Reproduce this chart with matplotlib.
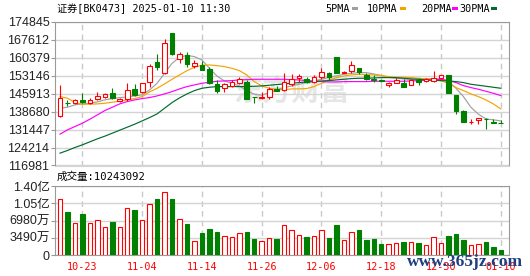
import matplotlib
matplotlib.use('Agg')
import matplotlib.pyplot as plt
from matplotlib.patches import Rectangle

plt.rcParams['font.family'] = ['Liberation Sans', 'Noto Sans CJK SC']
MONO = ['DejaVu Sans Mono', 'Noto Sans CJK SC']

# 交易日
dates = ['10-18', '10-21', '10-22', '10-23', '10-24', '10-25', '10-28', '10-29', '10-30', '10-31',
         '11-01', '11-04', '11-05', '11-06', '11-07', '11-08', '11-11', '11-12', '11-13', '11-14',
         '11-15', '11-18', '11-19', '11-20', '11-21', '11-22', '11-25', '11-26', '11-27', '11-28',
         '11-29', '12-02', '12-03', '12-04', '12-05', '12-06', '12-09', '12-10', '12-11', '12-12',
         '12-13', '12-16', '12-17', '12-18', '12-19', '12-20', '12-23', '12-24', '12-25', '12-26',
         '12-27', '12-30', '12-31', '01-02', '01-03', '01-06', '01-07', '01-08', '01-09', '01-10']

opens = [136952, 142300, 142040, 143513, 142040, 143781, 144718, 146191, 142978, 143647,
         147798, 146726, 150744, 158778, 154091, 170159, 159715, 161590, 156903, 157438,
         155698, 149806, 148066, 149137, 150074, 150744, 144700, 144183, 144450, 147798,
         147396, 149672, 152350, 151949, 150610, 152752, 154091, 160786, 154091, 155162,
         156100, 153421, 151681, 151413, 149405, 150342, 150074, 149271, 151413, 151011,
         151145, 152082, 153421, 145387, 139094, 134600, 135345, 135747, 134408, 134140]
highs = [149405, 143379, 143781, 146057, 144049, 146726, 146191, 148066, 144317, 150342,
         149806, 150342, 157707, 161724, 167749, 170159, 162661, 162661, 159447, 159179,
         156769, 151413, 150342, 151413, 152484, 151413, 144718, 146726, 148735, 149137,
         154091, 153823, 153823, 152752, 153421, 156100, 154627, 160786, 155028, 159045,
         156367, 154091, 153421, 151815, 150744, 152082, 151681, 151681, 152082, 152082,
         155028, 153421, 153421, 145387, 139362, 135747, 136015, 136149, 135613, 135345]
lows = [136684, 141103, 141772, 142040, 141772, 143379, 144317, 143647, 142576, 142978,
        144986, 146057, 148735, 155430, 153823, 161457, 158376, 156501, 156100, 155430,
        149806, 146325, 146726, 148735, 149672, 143647, 142040, 143781, 143781, 147128,
        147128, 149137, 150744, 150342, 150342, 151681, 151413, 154091, 154091, 154091,
        153823, 151413, 150476, 150476, 148735, 150074, 148735, 149271, 149405, 150476,
        150744, 151681, 146057, 137621, 134676, 133738, 133738, 131864, 134006, 134006]
closes = [144049, 142174, 143379, 142576, 143245, 144852, 145789, 144183, 143915, 147262,
          145521, 150074, 157037, 156769, 166142, 161724, 161857, 157974, 158376, 155430,
          150074, 146994, 149806, 150610, 151681, 143915, 144584, 144718, 147664, 147128,
          150744, 151949, 153020, 150610, 152484, 154493, 152752, 154359, 154760, 157305,
          154760, 151815, 151413, 151011, 150342, 151413, 148735, 151279, 150744, 151681,
          152350, 153421, 146057, 139094, 134676, 134676, 136015, 135613, 134274, 134006]

ma5 = [140031, 140433, 141370, 141772, 142040, 142576, 143379, 143915, 144317, 144584,
       144986, 145388, 147396, 150074, 154091, 158108, 160518, 161322, 160786, 159447,
       156100, 153020, 151011, 150074, 149003, 147128, 145655, 145254, 146325, 147396,
       148333, 149003, 149672, 150342, 151011, 151681, 152484, 153020, 153690, 154091,
       154359, 154359, 153824, 153154, 152484, 152082, 151815, 151681, 151681, 151815,
       151949, 151815, 150744, 148066, 144718, 140433, 137621, 135747, 135345, 134943]
ma10 = [144718, 144049, 142308, 141638, 141638, 141772, 142040, 142442, 142844, 143379,
        143915, 144718, 146592, 148066, 149806, 151681, 153421, 155162, 156501, 157305,
        157439, 157171, 156769, 156100, 155162, 153421, 150744, 149003, 148066, 147664,
        147396, 147798, 147798, 147932, 148735, 150074, 151413, 152350, 153020, 153421,
        153690, 153556, 153421, 153154, 152752, 152484, 152484, 152350, 152082, 151815,
        151681, 151011, 150074, 148333, 147128, 145789, 144718, 143379, 141772, 139764]
ma20 = [129588, 131328, 132667, 134006, 135613, 137352, 139094, 140433, 141772, 142709,
        143379, 143915, 144317, 144986, 145789, 146726, 147798, 148735, 149405, 150074,
        150476, 150878, 151011, 151145, 151413, 151547, 151681, 151681, 151681, 151681,
        151681, 151547, 151413, 151145, 151011, 150744, 150610, 150610, 150744, 150744,
        150744, 150744, 150878, 150878, 150878, 150878, 150878, 151011, 151145, 151279,
        151413, 151681, 151145, 150342, 149137, 148333, 147664, 146860, 146057, 145120]
ma30 = [121955, 123026, 124231, 125303, 126508, 127713, 128784, 129989, 131194, 132399,
        133604, 134943, 136282, 137755, 140031, 142308, 144183, 145789, 147128, 148066,
        148467, 148735, 148735, 148735, 148735, 148735, 148869, 149003, 149271, 149539,
        149806, 150074, 150342, 150610, 150744, 151011, 151145, 151413, 151681, 151949,
        152082, 152082, 152216, 152350, 152350, 152350, 152082, 151815, 151681, 151413,
        151279, 151145, 151011, 150744, 150342, 149672, 149271, 148869, 148467, 148066]

volumes = [112700000, 87000000, 64100000, 82900000, 64100000, 70200000, 56000000, 66800000, 56000000, 94400000,
           91000000, 70200000, 102500000, 112700000, 126800000, 112700000, 72800000, 62700000, 29000000, 45100000,
           52600000, 46500000, 37800000, 35800000, 44500000, 46500000, 31700000, 28300000, 33700000, 32400000,
           60000000, 49900000, 40500000, 36400000, 38400000, 49900000, 34400000, 60000000, 29700000, 45900000,
           50600000, 30300000, 32400000, 22300000, 22300000, 24300000, 26300000, 26300000, 24300000, 20200000,
           35800000, 24300000, 38400000, 42500000, 30300000, 20200000, 22300000, 26300000, 16200000, 10243092]

price_ticks = [116981, 124214, 131447, 138680, 145913, 153146, 160379, 167612, 174845]
vol_ticks = [0, 34900000, 69800000, 104700000, 139600000]
vol_labels = ['0', '3490万', '6980万', '1.05亿', '1.40亿']
label_idx = [3, 11, 19, 27, 35, 43, 51, 59]

ma_names = ['5PMA', '10PMA', '20PMA', '30PMA']
ma_colors = ['#a0a0a0', '#f5a300', '#ff00ff', '#006b2d']

RED = '#ff0000'
GREEN = '#008000'
GRID = '#d4d4d4'
BORDER = '#9a9a9a'

W, H = 530, 276
fig = plt.figure(figsize=(W / 100, H / 100), dpi=100)
ax = fig.add_axes([55 / W, 1 - 165.5 / H, 454 / W, 143.8 / H])
axv = fig.add_axes([55 / W, 1 - 255 / H, 454 / W, 69 / H])

x = list(range(len(dates)))
up = [c >= o for o, c in zip(opens, closes)]
colors = [RED if u else GREEN for u in up]
faces = ['white' if u else GREEN for u in up]

# 水印
ax.text(0.52, 0.52, '东方财富', transform=ax.transAxes, fontsize=21, color='#e6e6e6',
        weight='bold', style='italic', ha='center', va='center', zorder=0)

# 均线
for vals, col in zip([ma5, ma10, ma20, ma30], ma_colors):
    ax.plot(x, vals, color=col, lw=0.85, zorder=2)

# K线
ax.vlines(x, lows, highs, colors=colors, lw=0.8, zorder=3)
bottoms = [min(o, c) for o, c in zip(opens, closes)]
heights = [abs(c - o) for o, c in zip(opens, closes)]
ax.bar(x, heights, bottom=bottoms, width=0.62, color=faces, edgecolor=colors, lw=0.8, zorder=4)

ax.set_xlim(-0.67, 60.1)
ax.set_ylim(price_ticks[0], price_ticks[-1])
ax.set_yticks(price_ticks)
ax.set_xticks([])
ax.yaxis.grid(True, color=GRID, lw=1)
for i in label_idx:
    ax.axvline(i, color='#c8c8c8', ls=(0, (4, 3)), lw=1, zorder=1)
ax.tick_params(axis='y', length=3, color=BORDER, labelsize=9, labelcolor='#222222', pad=1)
for s in ax.spines.values():
    s.set_color(BORDER)
ax.spines['bottom'].set_color(GRID)

# 成交量
axv.bar(x, volumes, width=0.6, color=faces, edgecolor=colors, lw=0.8, zorder=3)
axv.set_xlim(-0.67, 60.1)
axv.set_ylim(0, vol_ticks[-1])
axv.set_yticks(vol_ticks)
axv.set_yticklabels(vol_labels)
axv.yaxis.grid(True, color=GRID, lw=1)
for i in label_idx:
    axv.axvline(i, color='#c8c8c8', ls=(0, (4, 3)), lw=1, zorder=1)
axv.set_xticks(label_idx)
axv.set_xticklabels([dates[i] for i in label_idx], family=MONO, fontsize=7.3, color=RED)
axv.tick_params(axis='x', length=0, pad=5)
axv.tick_params(axis='y', length=3, color=BORDER, labelsize=9, labelcolor='#222222', pad=1)
for s in axv.spines.values():
    s.set_color(BORDER)

# 标题和图例
fig.text(57 / W, 1 - 9 / H, '证券[BK0473] 2025-01-10 11:30', family=MONO, fontsize=7.3,
         va='center', ha='left')
legend_x = [325.5, 367, 421, 459]
for name, lx in zip(ma_names, legend_x):
    fig.text(lx / W, 1 - 9 / H, name, family=MONO, fontsize=7.3, va='center', ha='left')
legend_mark_x = [351.5, 399.5, 452, 491]
for col, mx in zip(ma_colors, legend_mark_x):
    fig.add_artist(Rectangle((mx / W, 1 - 10 / H), 6 / W, 3 / H, transform=fig.transFigure,
                             facecolor=col, edgecolor='none'))

fig.text(57 / W, 1 - 177 / H, '成交量:%d' % volumes[-1], family=MONO, fontsize=7.6,
         va='center', ha='left')

# 右下角网址水印（原图中也压在日期上）
fig.text(465 / W, 1 - 262 / H, 'www.365jz.com', family='Liberation Serif', fontsize=12.5,
         weight='bold', color='#1f3f80', ha='center', va='center')

fig.savefig('out.png', dpi=100)
